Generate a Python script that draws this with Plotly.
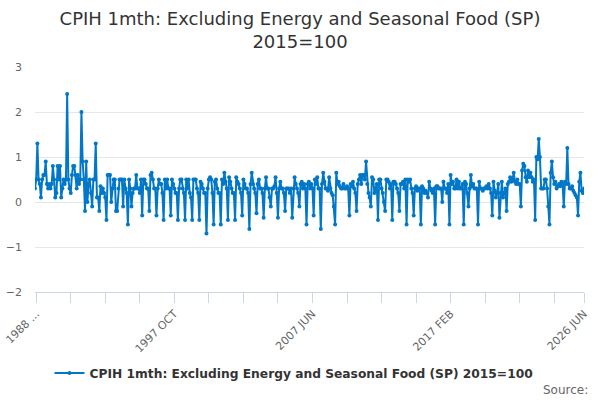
import plotly.graph_objects as go

# month-on-month rate, one list per year (JAN..DEC)
v1988 = [0.3, 0.5, 1.3, 0.5, 0.4, 0.1, 0.5, 0.6, 0.6, 0.9, 0.4, 0.3]
v1989 = [0.4, 0.3, 0.4, 0.8, 0.5, 0.1, 0.2, 0.8, 0.5, 0.8, 0.1, 0.3]
v1990 = [0.5, 0.4, 0.5, 2.4, 0.5, 0.3, 0.2, 0.6, 0.8, 0.8, 0.6, 0.3]
v1991 = [0.6, 0.4, 0.5, 2.0, 0.9, 0.5, -0.2, 0.9, 0.0, 0.4, 0.5, 0.2]
v1992 = [-0.1, 0.5, 0.5, 1.3, 0.1, 0.1, -0.2, 0.35, 0.2, 0.3, 0.2, 0.1]
v1993 = [-0.4, 0.6, 0.6, 0.6, 0.0, 0.3, 0.5, 0.5, -0.2, -0.2, 0.3, 0.5]
v1994 = [0.5, 0.5, -0.1, 0.5, 0.3, 0.2, -0.5, 0.5, 0.3, -0.1, 0.2, 0.3]
v1995 = [0.3, 0.6, 0.3, 0.3, 0.2, 0.5, -0.3, 0.5, 0.5, 0.4, 0.3, 0.3]
v1996 = [-0.2, 0.6, 0.65, 0.5, 0.3, 0.3, -0.3, 0.3, 0.5, 0.4, 0.4, 0.2]
v1997 = [-0.4, 0.5, 0.3, 0.5, 0.3, 0.3, -0.3, 0.5, 0.4, 0.3, 0.2, 0.2]
v1998 = [-0.4, 0.3, 0.5, 0.5, 0.3, 0.2, -0.4, 0.5, 0.3, 0.5, 0.2, 0.1]
v1999 = [-0.4, 0.5, 0.5, 0.5, 0.3, 0.2, -0.4, 0.45, 0.4, 0.3, 0.2, 0.2]
v2000 = [-0.7, 0.3, 0.5, 0.55, 0.5, 0.2, -0.5, 0.45, 0.5, 0.3, 0.2, 0.2]
v2001 = [-0.5, 0.5, 0.4, 0.65, 0.45, 0.3, -0.4, 0.55, 0.45, 0.3, 0.2, 0.2]
v2002 = [-0.4, 0.55, 0.45, 0.4, 0.3, 0.2, -0.3, 0.5, 0.4, 0.3, 0.3, 0.2]
v2003 = [-0.6, 0.4, 0.65, 0.4, 0.3, 0.2, -0.25, 0.4, 0.5, 0.3, 0.3, 0.2]
v2004 = [-0.35, 0.3, 0.55, 0.3, 0.3, 0.1, -0.1, 0.3, 0.3, 0.35, 0.55, 0.2]
v2005 = [-0.35, 0.3, 0.45, 0.3, 0.3, 0.2, -0.2, 0.3, 0.3, 0.3, 0.2, 0.3]
v2006 = [-0.35, 0.3, 0.55, 0.4, 0.3, 0.2, -0.1, 0.4, 0.45, 0.3, 0.4, 0.3]
v2007 = [-0.5, 0.4, 0.45, 0.3, 0.4, 0.3, -0.3, 0.5, 0.4, 0.55, 0.3, 0.3]
v2008 = [-0.6, 0.4, 0.65, 0.45, 0.3, 0.3, 0.25, 0.55, 0.3, 0.2, 0.15, -0.1]
v2009 = [-0.5, 0.65, 0.4, 0.45, 0.35, 0.3, 0.3, 0.4, 0.3, 0.3, 0.35, 0.3]
v2010 = [-0.3, 0.4, 0.35, 0.45, 0.3, 0.2, -0.2, 0.4, 0.5, 0.6, 0.4, 0.6]
v2011 = [0.6, 0.5, 0.9, 0.4, 0.2, 0.1, -0.1, 0.55, 0.5, 0.2, 0.3, 0.4]
v2012 = [-0.4, 0.5, 0.5, 0.3, 0.2, 0.0, -0.2, 0.5, 0.5, 0.45, 0.3, 0.4]
v2013 = [-0.4, 0.45, 0.45, 0.4, 0.3, 0.2, -0.2, 0.4, 0.4, 0.45, 0.3, 0.5]
v2014 = [-0.5, 0.5, 0.45, 0.5, 0.3, 0.2, -0.3, 0.3, 0.35, 0.25, 0.3, 0.3]
v2015 = [-0.5, 0.35, 0.3, 0.2, 0.25, 0.2, 0.1, 0.45, 0.3, 0.25, 0.2, 0.3]
v2016 = [-0.5, 0.35, 0.35, 0.3, 0.3, 0.3, 0.0, 0.45, 0.3, 0.3, 0.2, 0.4]
v2017 = [-0.5, 0.6, 0.4, 0.45, 0.3, 0.3, 0.5, 0.3, 0.45, 0.3, 0.3, 0.4]
v2018 = [-0.5, 0.45, 0.4, 0.2, -0.1, 0.3, 0.6, 0.35, 0.4, 0.3, 0.3, 0.3]
v2019 = [-0.5, 0.45, 0.3, 0.3, 0.25, 0.3, 0.3, 0.35, 0.3, 0.4, 0.3, 0.2]
v2020 = [-0.3, 0.45, 0.25, 0.1, 0.2, 0.4, -0.35, 0.2, 0.45, 0.1, 0.2, 0.3]
v2021 = [-0.2, 0.4, 0.45, 0.55, 0.45, 0.5, 0.65, 0.45, 0.4, 0.5, 0.4, 0.4]
v2022 = [-0.1, 0.7, 0.85, 0.8, 0.55, 0.45, 0.7, 0.55, 0.65, 0.55, 0.45, 0.5]
v2023 = [-0.4, 1.0, 0.95, 1.4, 1.0, 0.3, 0.3, 0.3, 0.5, 0.5, 0.3, -0.1]
v2024 = [-0.5, 0.65, 0.9, 0.55, 0.4, 0.45, 0.3, 0.35, 0.4, 0.35, 0.45, 0.4]
v2025 = [-0.1, 0.45, 0.4, 1.2, 0.4, 0.3, 0.3, 0.35, 0.25, 0.2, 0.15, 0.1]
v2026 = [-0.3, 0.45, 0.65, 0.25, 0.2, 0.3]   # JAN..JUN

years = [v1988, v1989, v1990, v1991, v1992, v1993, v1994, v1995, v1996, v1997,
         v1998, v1999, v2000, v2001, v2002, v2003, v2004, v2005, v2006, v2007,
         v2008, v2009, v2010, v2011, v2012, v2013, v2014, v2015, v2016, v2017,
         v2018, v2019, v2020, v2021, v2022, v2023, v2024, v2025, v2026]
month_names = ['JAN', 'FEB', 'MAR', 'APR', 'MAY', 'JUN',
               'JUL', 'AUG', 'SEP', 'OCT', 'NOV', 'DEC']

series_name = 'CPIH 1mth: Excluding Energy and Seasonal Food (SP) 2015=100'
title_text  = 'CPIH 1mth: Excluding Energy and Seasonal Food (SP)<br>2015=100'

# categories "1988 JAN" .. "2026 JUN"
months = []
values = []
for k, vals in enumerate(years):
    for m, v in enumerate(vals):
        months.append(f'{1988 + k} {month_names[m]}')
        values.append(v)

# tick marks every 29 months starting at 1988 FEB, plus the last month
tick_idx  = list(range(1, len(months), 29)) + [len(months) - 1]
tick_text = []
for n, i in enumerate(tick_idx):
    if i == 1:
        tick_text.append('1988 ...')
    elif n % 4 == 0 or i == len(months) - 1:
        tick_text.append(months[i])
    else:
        tick_text.append('')

line_color = '#0077c8'
text_color = '#333333'
axis_color = '#666666'

# plot area in pixels
plot_l, plot_r, plot_t, plot_b = 35, 584, 67, 292

fig = go.Figure()
fig.add_trace(go.Scatter(
    x      = months,
    y      = values,
    name   = series_name,
    mode   = 'lines+markers',
    line   = {'color': line_color, 'width': 2},
    marker = {'color': line_color, 'size': 4},
    hovertemplate = '%{x}<br>%{y}<extra></extra>',
))

# base layout
fig.update_layout(
    width         = 600,
    height        = 400,
    font          = {'family': 'DejaVu Sans', 'size': 11, 'color': axis_color},
    paper_bgcolor = 'white',
    plot_bgcolor  = 'white',
    margin        = {'l': plot_l, 'r': 600 - plot_r, 't': plot_t, 'b': 400 - plot_b},
    title = {
        'text':       title_text,
        'font':       {'size': 18, 'color': text_color},
        'xref':       'container',
        'x':          .5,
        'xanchor':    'center',
        'yref':       'container',
        'y':          (400 - 25) / 400,
        'yanchor':    'middle',
        'automargin': False,
    },
)

# axes
fig.update_xaxes(
    type          = 'category',
    range         = [0, len(months) - 1],
    tickmode      = 'array',
    tickvals      = [months[i] for i in tick_idx],
    ticktext      = tick_text,
    tickangle     = -45,
    ticks         = 'outside',
    ticklen       = 10,
    tickcolor     = '#ccd6eb',
    showline      = True,
    linecolor     = '#ccd6eb',
    showgrid      = False,
    automargin    = False,
    tickfont      = {'size': 11, 'color': axis_color},
)
fig.update_yaxes(
    range         = [-2, 3],
    tickvals      = [-2, -1, 0, 1, 2, 3],
    showgrid      = True,
    gridcolor     = '#e6e6e6',
    zeroline      = False,
    ticklabelstandoff = 12,
    automargin    = False,
    tickfont      = {'size': 11, 'color': axis_color},
)

# legend below the plot
fig.update_layout(
    showlegend = True,
    legend = {
        'orientation': 'h',
        'xref':        'container',
        'x':           .49,
        'xanchor':     'center',
        'yref':        'container',
        'y':           (400 - 373) / 400,
        'yanchor':     'middle',
        'font':        {'size': 12.25, 'color': text_color, 'weight': 'bold'},
    },
)

# credits
fig.add_annotation(
    text      = 'Source:',
    xref      = 'paper',
    yref      = 'paper',
    x         = (590 - plot_l) / (plot_r - plot_l),
    y         = (plot_b - 390) / (plot_b - plot_t),
    xanchor   = 'right',
    yanchor   = 'middle',
    showarrow = False,
    font      = {'size': 12, 'color': '#666666'},
)

config = {
    'displayModeBar': False,
    'displaylogo':    False,
}

# the page body has a default 8px margin; drop it so the chart sits at 0,0
fig.write_html('out.html', config=config,
               post_script="document.body.style.margin = '0';")
